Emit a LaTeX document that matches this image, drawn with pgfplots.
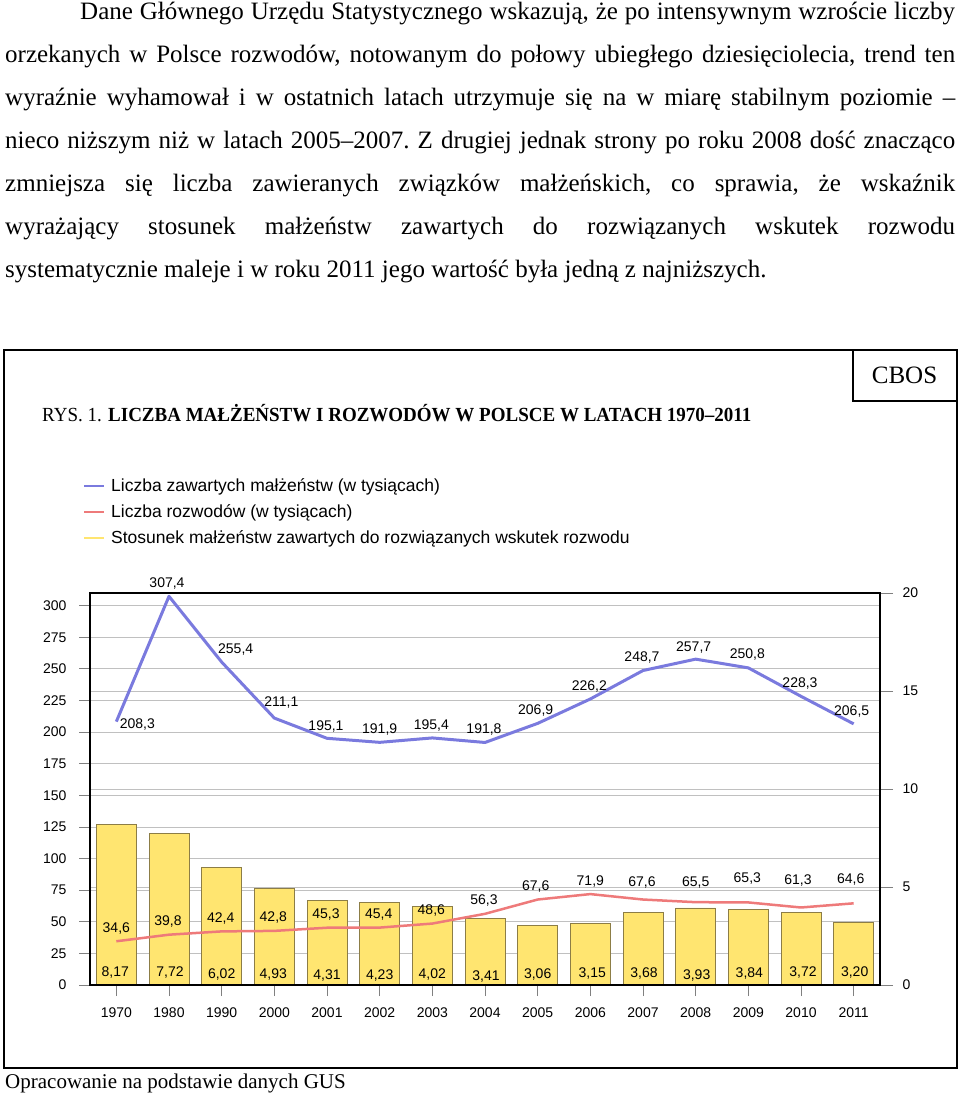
\documentclass[border=0pt]{standalone}
\usepackage{fontspec}
\setmainfont{Liberation Serif}
\newfontfamily\arial{Liberation Sans}
\usepackage{pgfplots}
\pgfplotsset{compat=1.18}
\definecolor{cBlue}{RGB}{122,122,222}
\definecolor{cRed}{RGB}{238,122,122}
\definecolor{cBar}{RGB}{255,229,112}
\definecolor{cBarE}{RGB}{140,125,70}
\definecolor{cGrid}{RGB}{192,192,192}
\pgfplotsset{
  myaxis/.style={at={(90pt,-985pt)}, anchor=south west, scale only axis,
    width=790pt, height=392pt, xmin=-0.5, xmax=14.5, clip=false,
    /pgf/number format/assume math mode=true,
    tick label style={font=\arial\fontsize{14}{15}\selectfont}},
  lab/.style={nodes near coords, point meta=explicit symbolic,
    visualization depends on={\thisrow{dx}\as\dx},
    visualization depends on={\thisrow{dy}\as\dy},
    every node near coord/.append style={black, font=\arial\fontsize{14}{15}\selectfont,
      anchor=center, inner sep=0pt, text height=10pt, text depth=0pt,
      xshift=\dx pt, yshift=\dy pt}},
}
\begin{document}
\begin{tikzpicture}
\path[use as bounding box] (0,0) rectangle (960pt,-1093pt);
% paragraph
\node[anchor=base west, inner sep=0pt] at (5pt,-19pt) {\begin{minipage}[t]{950pt}\fontsize{25}{43}\selectfont\frenchspacing\setlength{\parindent}{75pt}Dane Głównego Urzędu Statystycznego wskazują, że po intensywnym wzroście liczby\linebreak
orzekanych w Polsce rozwodów, notowanym do połowy ubiegłego dziesięciolecia, trend ten\linebreak
wyraźnie wyhamował i w ostatnich latach utrzymuje się na w miarę stabilnym poziomie –\linebreak
nieco niższym niż w latach 2005–2007. Z drugiej jednak strony po roku 2008 dość znacząco\linebreak
zmniejsza się liczba zawieranych związków małżeńskich, co sprawia, że wskaźnik\linebreak
wyrażający stosunek małżeństw zawartych do rozwiązanych wskutek rozwodu\linebreak
systematycznie maleje i w roku 2011 jego wartość była jedną z najniższych.\end{minipage}};
% frames
\draw[line width=1.5pt] (4pt,-350pt) rectangle (957pt,-1068pt);
\draw[line width=1.5pt] (853pt,-350pt) rectangle (957pt,-401pt);
\node[anchor=base, inner sep=0pt] at (904.5pt,-383pt) {\fontsize{25}{30}\selectfont CBOS};
\node[anchor=base west, inner sep=0pt] at (42pt,-421pt) {\scalebox{0.95}[1]{\fontsize{20}{24}\selectfont RYS. 1. \textbf{LICZBA MAŁŻEŃSTW I ROZWODÓW W POLSCE W LATACH 1970–2011}}};
% legend
\draw[cBlue, line width=2pt] (84pt,-485.5pt) -- (104pt,-485.5pt);
\draw[cRed, line width=2pt] (84pt,-511.5pt) -- (104pt,-511.5pt);
\draw[cBar, line width=2pt] (84pt,-537.5pt) -- (104pt,-537.5pt);
\node[anchor=base west, inner sep=0pt] at (111pt,-491pt) {\arial\fontsize{17.5}{20}\selectfont Liczba zawartych małżeństw (w tysiącach)};
\node[anchor=base west, inner sep=0pt] at (111pt,-517pt) {\arial\fontsize{17.5}{20}\selectfont Liczba rozwodów (w tysiącach)};
\node[anchor=base west, inner sep=0pt] at (111pt,-543pt) {\arial\fontsize{17.5}{20}\selectfont Stosunek małżeństw zawartych do rozwiązanych wskutek rozwodu};
% caption
\node[anchor=base west, inner sep=0pt] at (5pt,-1088pt) {\fontsize{21}{24}\selectfont Opracowanie na podstawie danych GUS};

% grid axis
\begin{axis}[myaxis, ymin=0, ymax=310, ytick={0,25,...,300}, yticklabels={},
  extra y ticks={77.5,155,232.5}, extra y tick labels={}, extra y tick style={grid=major},
  ymajorgrids, xtick=\empty, minor xtick={0.5,1.5,...,13.5}, xminorgrids,
  grid style={cGrid, line width=0.8pt}, minor grid style={cGrid, line width=0.8pt},
  axis line style={draw=none}, tick style={draw=none}]
\addplot[draw=none] coordinates {(0,0)};
\end{axis}

% bars axis (right)
\begin{axis}[myaxis, ymin=0, ymax=20, axis x line=none, axis y line*=right,
  ytick={0,5,10,15,20}, tick align=outside, major tick length=13pt,
  yticklabel style={xshift=6pt},
  tick style={black!50, line width=0.8pt}, axis line style={black, line width=1.5pt}]
\addplot[ybar, bar width=40pt, fill=cBar, draw=cBarE, line width=0.9pt] coordinates {
(0,8.17) (1,7.72) (2,6.02) (3,4.93) (4,4.31) (5,4.23) (6,4.02) (7,3.41)
(8,3.06) (9,3.15) (10,3.68) (11,3.93) (12,3.84) (13,3.72) (14,3.20)};
\addplot[draw=none, lab] table[x=x, y=y, meta=lab] {
x y lab dx dy
0 0.66 {8,17} -1 1
1 0.66 {7,72} 1 1
2 0.66 {6,02} 0 -1
3 0.66 {4,93} -1 -1
4 0.66 {4,31} 0 -2
5 0.66 {4,23} 0 -2
6 0.66 {4,02} 0 -1
7 0.66 {3,41} 1 -3
8 0.66 {3,06} 0 -1
9 0.66 {3,15} 2 0
10 0.66 {3,68} 1 0
11 0.66 {3,93} 1 -2
12 0.66 {3,84} 1 0
13 0.66 {3,72} 2 1
14 0.66 {3,20} 1 1
};
\end{axis}

% lines axis (left)
\begin{axis}[myaxis, ymin=0, ymax=310, ytick={0,25,...,300}, ytick pos=left,
  xtick={0,...,14}, xticklabels={1970,1980,1990,2000,2001,2002,2003,2004,2005,2006,2007,2008,2009,2010,2011},
  xtick pos=bottom, tick align=outside, major tick length=11pt,
  yticklabel style={xshift=-9pt}, xticklabel style={yshift=-8pt},
  tick style={black!50, line width=0.8pt}, axis line style={black, line width=1.5pt}]
\addplot[cBlue, line width=3pt, line join=round, lab] table[x=x, y=y, meta=lab] {
x y lab dx dy
0 208.3 {208,3} 21 -1.5
1 307.4 {307,4} -2 13.5
2 255.4 {255,4} 14 14
3 211.1 {211,1} 7 17
4 195.1 {195,1} -1 13
5 191.9 {191,9} 0 13.5
6 195.4 {195,4} -1 13
7 191.8 {191,8} -1 13.5
8 206.9 {206,9} -2 13.5
9 226.2 {226,2} -1 13
10 248.7 {248,7} -1 14
11 257.7 {257,7} -2 13
12 250.8 {250,8} -1 14
13 228.3 {228,3} -1 13.5
14 206.5 {206,5} -2 13
};
\addplot[cRed, line width=2.5pt, line join=round, lab] table[x=x, y=y, meta=lab] {
x y lab dx dy
0 34.6 {34,6} 0 14
1 39.8 {39,8} -1 14
2 42.4 {42,4} -1 14
3 42.8 {42,8} -1 14
4 45.3 {45,3} -1 14
5 45.4 {45,4} -1 14
6 48.6 {48,6} -1 14.5
7 56.3 {56,3} -1 14
8 67.6 {67,6} -2 14.5
9 71.9 {71,9} 0 14
10 67.6 {67,6} -1 18.5
11 65.5 {65,5} 0 21
12 65.3 {65,3} -1 24.5
13 61.3 {61,3} -3 27.5
14 64.6 {64,6} -3 24.5
};
\end{axis}
\end{tikzpicture}
\end{document}
